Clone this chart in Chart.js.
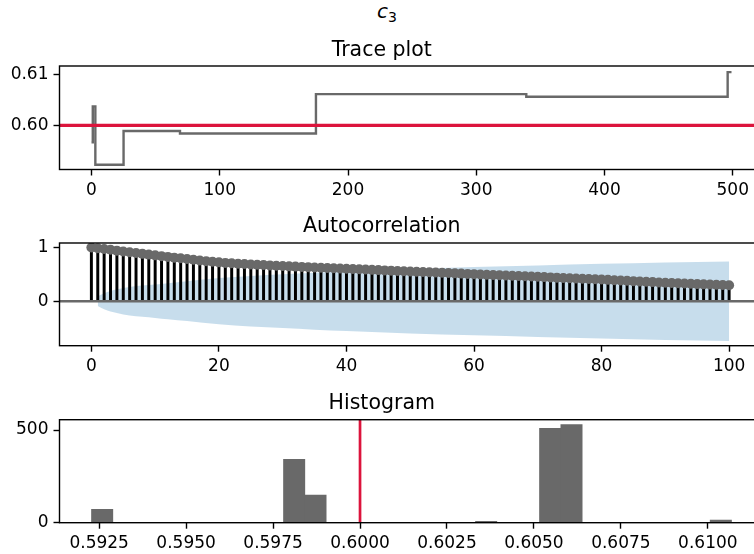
<!DOCTYPE html>
<html>
<head>
<meta charset="utf-8">
<script src="https://cdn.jsdelivr.net/npm/chart.js@4.4.1/dist/chart.umd.min.js"></script>
<style>
  html, body { margin: 0; padding: 0; background: #fff; width: 754px; height: 554px; overflow: hidden; }
  canvas { position: absolute; left: 0; top: 0; }
  #suptitle {
    position: absolute; left: 0; top: 1px; width: 774px; text-align: center;
    font-family: "DejaVu Sans", sans-serif; font-size: 20px; line-height: 20px; color: #000;
  }
  #suptitle .v { font-style: italic; }
  #suptitle .s { font-size: 14px; position: relative; top: 4px; }
</style>
</head>
<body>
<div id="suptitle"><span class="v">c</span><span class="s">3</span></div>
<canvas id="trace" width="766" height="554"></canvas>
<canvas id="acf" width="766" height="554"></canvas>
<canvas id="hist" width="766" height="554"></canvas>
<script>
// ---- sampled chain of c3 (iteration where the value changes, and the new value)
const traceIter  = [0, 1, 3, 25, 69, 175, 339, 496, 499];
const traceValue = [0.5967, 0.6037, 0.5923, 0.5989, 0.5984, 0.6061, 0.6056, 0.6104, 0.6104];
const trueValue = 0.60;

// ---- autocorrelation by lag (0..100)
const acfLags = Array.from({ length: 101 }, (_, i) => i);
const acfValues = [
  1.000, 0.985, 0.970, 0.955, 0.940, 0.925, 0.910, 0.895, 0.880, 0.866,
  0.852, 0.838, 0.824, 0.810, 0.797, 0.784, 0.771, 0.758, 0.745, 0.733,
  0.722, 0.712, 0.704, 0.697, 0.690, 0.684, 0.678, 0.672, 0.666, 0.660,
  0.654, 0.648, 0.643, 0.638, 0.633, 0.628, 0.623, 0.618, 0.613, 0.608,
  0.603, 0.598, 0.593, 0.588, 0.583, 0.578, 0.573, 0.568, 0.563, 0.558,
  0.553, 0.548, 0.543, 0.538, 0.533, 0.528, 0.523, 0.518, 0.513, 0.508,
  0.503, 0.498, 0.493, 0.488, 0.483, 0.478, 0.473, 0.468, 0.463, 0.458,
  0.453, 0.448, 0.443, 0.438, 0.433, 0.428, 0.423, 0.418, 0.413, 0.408,
  0.403, 0.397, 0.391, 0.385, 0.379, 0.373, 0.367, 0.361, 0.355, 0.349,
  0.343, 0.338, 0.333, 0.328, 0.323, 0.318, 0.313, 0.309, 0.305, 0.301,
  0.298
];
// confidence band of the autocorrelation
const bandLags  = [1, 2, 3, 4, 5, 6, 8, 10, 12, 15, 20, 25, 30, 35, 40, 50, 60, 70, 80, 90, 100];
const bandUpper = [0.09, 0.15, 0.19, 0.22, 0.245, 0.265, 0.29, 0.31, 0.335, 0.37, 0.43, 0.47, 0.50, 0.53, 0.555, 0.60, 0.635, 0.665, 0.695, 0.72, 0.74];
const bandLower = [-0.09, -0.15, -0.19, -0.22, -0.245, -0.265, -0.29, -0.31, -0.335, -0.37, -0.43, -0.47, -0.50, -0.53, -0.555, -0.60, -0.635, -0.665, -0.695, -0.72, -0.74];

// ---- histogram of all draws: 30 bins between the smallest and largest draw
const histMin = 0.59228;
const histMax = 0.61068;
const histCounts = [
  72, 0, 0, 0, 0, 0, 0, 0, 0, 342,
  149, 0, 0, 0, 0, 0, 0, 0, 8, 0,
  0, 509, 530, 0, 0, 0, 0, 0, 0, 14
];

// ---- tick labels
const traceXTicks = [0, 100, 200, 300, 400, 500];
const traceYTicks = [0.60, 0.61];
const acfXTicks = [0, 20, 40, 60, 80, 100];
const acfYTicks = [0, 1];
const histXTicks = [0.5925, 0.5950, 0.5975, 0.6000, 0.6025, 0.6050, 0.6075, 0.6100];
const histYTicks = [0, 500];

// ---- shared styling
const FONT = '"DejaVu Sans", sans-serif';
const GRAY = '#696969';
const RED = '#dc143c';
const BAND = 'rgba(31,119,180,0.25)';
Chart.defaults.font.family = FONT;
Chart.defaults.color = '#000';

const fixedTicks = (values) => (scale) => { scale.ticks = values.map(v => ({ value: v })); };

function axis(values, fmt, extra) {
  return Object.assign({
    type: 'linear',
    offset: false,
    afterBuildTicks: fixedTicks(values),
    border: { display: false },
    grid: { display: true, offset: false, drawOnChartArea: false, drawTicks: true,
            tickLength: 6, tickWidth: 1.4, tickColor: '#000' },
    ticks: { font: { size: 17 }, color: '#000', padding: 5, maxRotation: 0, autoSkip: false,
             callback: (v) => fmt(v) }
  }, extra);
}

// frame (all four spines) plus reference lines drawn through the scales
const framePlugin = {
  id: 'frame',
  afterDatasetDraw(chart, args, opts) {
    if (opts.zeroAfter === args.index) {
      const { ctx, chartArea: a, scales } = chart;
      const y = scales.y.getPixelForValue(0);
      ctx.save();
      ctx.strokeStyle = GRAY; ctx.lineWidth = 2.4;
      ctx.beginPath(); ctx.moveTo(a.left, y); ctx.lineTo(a.right, y); ctx.stroke();
      ctx.restore();
    }
  },
  afterDatasetsDraw(chart, args, opts) {
    const { ctx, chartArea: a, scales } = chart;
    ctx.save();
    if (opts.hline) {
      const y = scales.y.getPixelForValue(opts.hline.value);
      ctx.strokeStyle = opts.hline.color; ctx.lineWidth = opts.hline.width;
      ctx.beginPath(); ctx.moveTo(a.left, y); ctx.lineTo(a.right, y); ctx.stroke();
    }
    if (opts.vline) {
      const x = scales.x.getPixelForValue(opts.vline.value);
      ctx.strokeStyle = opts.vline.color; ctx.lineWidth = opts.vline.width;
      ctx.beginPath(); ctx.moveTo(x, a.top); ctx.lineTo(x, a.bottom); ctx.stroke();
    }
    ctx.strokeStyle = '#000'; ctx.lineWidth = 1.4;
    ctx.strokeRect(a.left, a.top, a.right - a.left, a.bottom - a.top);
    ctx.restore();
  }
};

// places the plotting area: title block above, fixed axis sizes
function frameLayout(titleText, titleMid, areaTop, areaBottom) {
  const size = 20.5;
  const padTop = titleMid - size / 2;
  return {
    layout: { padding: { left: 0, right: 2.5, top: 0, bottom: 0 } },
    title: {
      display: true, text: titleText, color: '#000',
      font: { size: size, weight: 'normal', lineHeight: 1 },
      padding: { top: padTop, bottom: areaTop - padTop - size }
    },
    xFit: (scale) => { scale.height = 554 - areaBottom; },
    yFit: (scale) => { scale.width = 59.5; }
  };
}

function baseOptions(L, xAxis, yAxis, frameOpts) {
  xAxis.afterFit = L.xFit;
  yAxis.afterFit = L.yFit;
  return {
    responsive: false, animation: false, events: [],
    layout: L.layout,
    scales: { x: xAxis, y: yAxis },
    plugins: { legend: { display: false }, tooltip: { enabled: false }, title: L.title, frame: frameOpts }
  };
}

// ---------- trace plot
{
  const L = frameLayout('Trace plot', 50.6, 66, 169.5);
  new Chart(document.getElementById('trace'), {
    type: 'line',
    data: {
      datasets: [{
        // each value holds until the next change point
        data: traceIter.map((x, i) => ({ x, y: traceValue[i] })),
        borderColor: GRAY, borderWidth: 2.4, pointRadius: 0, stepped: 'before', fill: false
      }]
    },
    options: baseOptions(L,
      axis(traceXTicks, v => String(v), { min: -24.95, max: 523.95 }),
      axis(traceYTicks, v => v.toFixed(2), { min: 0.59136, max: 0.6116 }),
      { hline: { value: trueValue, color: RED, width: 3.2 } }),
    plugins: [framePlugin]
  });
}

// ---------- autocorrelation
{
  const L = frameLayout('Autocorrelation', 227, 243, 345.7);
  new Chart(document.getElementById('acf'), {
    type: 'bar',
    data: {
      datasets: [
        { type: 'line', order: 5, data: bandLags.map((x, i) => ({ x, y: bandUpper[i] })),
          borderWidth: 0, pointRadius: 0, backgroundColor: BAND, fill: '+1', cubicInterpolationMode: 'monotone' },
        { type: 'line', order: 4, data: bandLags.map((x, i) => ({ x, y: bandLower[i] })),
          borderWidth: 0, pointRadius: 0, fill: false, cubicInterpolationMode: 'monotone' },
        { type: 'bar', order: 3, data: acfLags.map((x, i) => ({ x, y: acfValues[i] })),
          backgroundColor: '#000', barThickness: 2.3, borderWidth: 0 },
        { type: 'line', order: 1, data: acfLags.map((x, i) => ({ x, y: acfValues[i] })),
          showLine: false, pointRadius: 5, pointBackgroundColor: GRAY, pointBorderWidth: 0 }
      ]
    },
    options: baseOptions(L,
      axis(acfXTicks, v => String(v), { min: -5, max: 105 }),
      axis(acfYTicks, v => String(v), { min: -0.827, max: 1.082 }),
      { zeroAfter: 2 }),
    plugins: [framePlugin]
  });
}

// ---------- histogram
{
  const L = frameLayout('Histogram', 403.2, 419.7, 522.7);
  const w = (histMax - histMin) / histCounts.length;
  new Chart(document.getElementById('hist'), {
    type: 'bar',
    data: {
      datasets: [{
        data: histCounts.map((c, i) => ({ x: histMin + (i + 0.5) * w, y: c })),
        backgroundColor: GRAY, borderWidth: 0, barPercentage: 1, categoryPercentage: 1
      }]
    },
    options: baseOptions(L,
      axis(histXTicks, v => v.toFixed(4), { min: 0.59136, max: 0.6116 }),
      axis(histYTicks, v => String(v), { min: 0, max: 556 }),
      { vline: { value: trueValue, color: RED, width: 2.7 } }),
    plugins: [framePlugin]
  });
}
</script>
</body>
</html>
